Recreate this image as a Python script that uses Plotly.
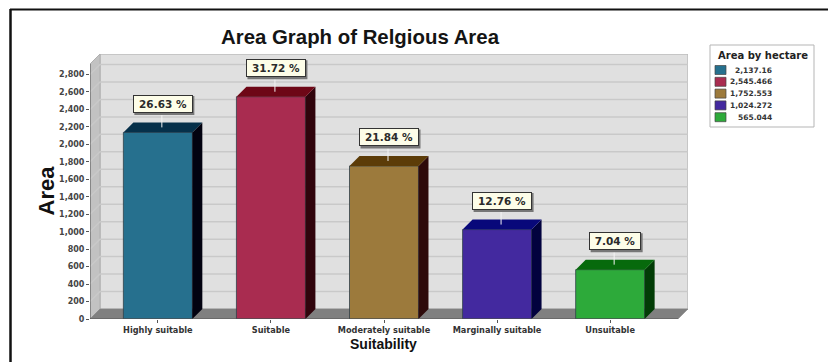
import plotly.graph_objects as go

# Suitability classes and their areas in hectares
categories = ["Highly suitable", "Suitable", "Moderately suitable", "Marginally suitable", "Unsuitable"]
areas = [2137.16, 2545.466, 1752.553, 1024.272, 565.044]
area_labels = ["2,137.16", "2,545.466", "1,752.553", "1,024.272", "565.044"]
shares = ["26.63 %", "31.72 %", "21.84 %", "12.76 %", "7.04 %"]
front_colors = ["#26708e", "#a92c50", "#9c7a3c", "#43299f", "#2daa3a"]
top_colors = ["#06304a", "#6e0716", "#5c3c08", "#08087a", "#076a0c"]
side_colors = ["#020210", "#30040c", "#2e0a0a", "#02023e", "#023c06"]
y_ticks = list(range(0, 3000, 200))

W, H = 828, 362
LEFT, RIGHT, TOP, BOTTOM = 90, 688, 54, 319
X_MIN, X_MAX = -0.6, 4.6885
Y_MIN, Y_MAX = 0, 3035
BAR_W = 0.61
DX = (X_MAX - X_MIN) * 10 / (RIGHT - LEFT)   # depth offset of the 3D box, x units
DY = (Y_MAX - Y_MIN) * 10 / (BOTTOM - TOP)   # depth offset of the 3D box, y units
FRONT_X = X_MAX - DX
WALL_TOP = Y_MAX
FRONT_TOP = Y_MAX - DY


def px(x):
    return (x - LEFT) / (RIGHT - LEFT)


def py(y):
    return (BOTTOM - y) / (BOTTOM - TOP)


fig = go.Figure()


def poly(xs, ys, fill, line=None, width=0, axes=("x", "y")):
    fig.add_trace(go.Scatter(
        x=xs, y=ys, xaxis=axes[0], yaxis=axes[1], mode="lines", fill="toself", fillcolor=fill,
        line=dict(color=line or fill, width=width), hoverinfo="skip", showlegend=False))


def stroke(xs, ys, color, width, axes=("x", "y")):
    fig.add_trace(go.Scatter(
        x=xs, y=ys, xaxis=axes[0], yaxis=axes[1], mode="lines", line=dict(color=color, width=width),
        hoverinfo="skip", showlegend=False))


# Back wall, side wall and floor of the box
poly([X_MIN + DX, X_MAX, X_MAX, X_MIN + DX, X_MIN + DX], [DY, DY, WALL_TOP, WALL_TOP, DY], "#e0e0e0", "#bdbdbd", 1.5)
poly([X_MIN, X_MIN + DX, X_MIN + DX, X_MIN, X_MIN], [0, DY, WALL_TOP, FRONT_TOP, 0], "#c2c2c2", "#b0b0b0", 1)
poly([X_MIN, FRONT_X, X_MAX, X_MIN + DX, X_MIN], [0, 0, DY, DY, 0], "#808080", "#808080", 0.5)

# Grid lines running along the side wall and the back wall
for v in y_ticks[1:]:
    stroke([X_MIN, X_MIN + DX, X_MAX], [v, v + DY, v + DY], "#c9c9c9", 1.5)

# Bars live on an overlaying axis pair so they paint above the box faces
OVER = ("x2", "y2")
fig.add_trace(go.Bar(
    x=list(range(len(categories))), y=areas, width=BAR_W, xaxis="x2", yaxis="y2",
    marker=dict(color=front_colors, line=dict(color="#30404a", width=0.8)),
    hoverinfo="skip", showlegend=False))

# Right side and top faces of each bar
for i, v in enumerate(areas):
    x0, x1 = i - BAR_W / 2, i + BAR_W / 2
    poly([x1, x1 + DX, x1 + DX, x1, x1], [0, DY, v + DY, v, 0], side_colors[i], axes=OVER)
    poly([x0, x0 + DX, x1 + DX, x1, x0], [v, v + DY, v + DY, v, v], top_colors[i], axes=OVER)

# Axis lines of the front edge
stroke([X_MIN, X_MIN], [0, FRONT_TOP], "#555555", 1, OVER)
stroke([X_MIN, FRONT_X], [0, 0], "#555555", 1, OVER)

shapes = []
annotations = []

# Value call-outs: leader line, drop shadow, then the boxed text
for i, v in enumerate(areas):
    lx = i + 4 / 113
    stroke([lx, lx], [v + DY * 0.5, v + DY * 2.4], "#f4f4f4", 1, OVER)
    half = 30 if i < 4 else 26
    shapes.append(dict(
        type="rect", xref="x", yref="y", xsizemode="pixel", ysizemode="pixel",
        xanchor=i + 5 / 113, yanchor=v,
        x0=-half + 1.5, x1=half + 1.5, y0=17.5, y1=36.5,
        fillcolor="#777777", line=dict(width=0), layer="above"))
    annotations.append(dict(
        x=i + 5 / 113, y=v, xref="x", yref="y", yshift=28.5, text=f"<b>{shares[i]}</b>",
        xanchor="center", yanchor="middle",
        showarrow=False, bgcolor="#fdfde8", bordercolor="#333333", borderwidth=1,
        width=2 * half - 2, height=16, borderpad=0, font=dict(family="DejaVu Sans", size=10.5, color="#2a2a2a")))

# Legend panel
shapes.append(dict(type="rect", xref="paper", yref="paper",
                   x0=px(710), x1=px(814), y0=py(127), y1=py(45),
                   fillcolor="white", line=dict(color="#b5b5b5", width=1), layer="above"))
annotations.append(dict(
    x=px(763), y=py(55), xref="paper", yref="paper", xanchor="center", yanchor="middle",
    text="<b>Area by hectare</b>", showarrow=False, font=dict(family="DejaVu Sans", size=10, color="#222222")))
for i, label in enumerate(area_labels):
    cy = 70 + i * 11.8
    shapes.append(dict(type="rect", xref="paper", yref="paper",
                       x0=px(715), x1=px(726), y0=py(cy + 4.5), y1=py(cy - 4.5),
                       fillcolor=front_colors[i], line=dict(color="#444444", width=0.7), layer="above"))
    annotations.append(dict(
        x=px(774), y=py(cy), xref="paper", yref="paper", xanchor="right", yanchor="middle",
        text=f"<b>{label}</b>", showarrow=False,
        font=dict(family="DejaVu Sans", size=7.5, color="#333333")))

# Axis titles
annotations.append(dict(
    x=px(383), y=py(344), xref="paper", yref="paper", xanchor="center", yanchor="middle",
    text="<b>Suitability</b>", showarrow=False, font=dict(family="Liberation Sans", size=14, color="#111111")))
annotations.append(dict(
    x=px(45.5), y=py(191), xref="paper", yref="paper", xanchor="center", yanchor="middle", textangle=-90,
    text="<b>Area</b>", showarrow=False, font=dict(family="Liberation Sans", size=22, color="#111111")))

# Outer frame, open on the right and bottom sides
shapes.append(dict(type="line", xref="paper", yref="paper",
                   x0=px(10.5), x1=px(10.5), y0=py(H), y1=py(9),
                   line=dict(color="#111111", width=2.5)))
shapes.append(dict(type="line", xref="paper", yref="paper",
                   x0=px(10), x1=px(W), y0=py(9.5), y1=py(9.5),
                   line=dict(color="#111111", width=2)))

fig.update_layout(
    width=W, height=H, paper_bgcolor="white", plot_bgcolor="white", showlegend=False,
    margin=dict(l=LEFT, r=W - RIGHT, t=TOP, b=H - BOTTOM, pad=0),
    title=dict(text="<b>Area Graph of Relgious Area</b>", x=360 / W, y=1 - 37 / H, xanchor="center", yanchor="middle",
               font=dict(family="Liberation Sans", size=20.4, color="#141414")),
    xaxis=dict(range=[X_MIN, X_MAX], tickmode="array", tickvals=list(range(len(categories))),
               ticktext=[f"<b>{c}</b>" for c in categories], tickfont=dict(family="DejaVu Sans", size=8.2, color="#333333"),
               showgrid=False, zeroline=False, showline=False, ticks="outside", ticklen=3, tickcolor="#555555"),
    yaxis=dict(range=[Y_MIN, Y_MAX], tickmode="array", tickvals=y_ticks,
               ticktext=[f"<b>{v:,}</b>" for v in y_ticks], tickfont=dict(family="DejaVu Sans", size=8, color="#444444"),
               showgrid=False, zeroline=False, showline=False, ticks="outside", ticklen=3, tickcolor="#555555"),
    xaxis2=dict(range=[X_MIN, X_MAX], overlaying="x", visible=False),
    yaxis2=dict(range=[Y_MIN, Y_MAX], overlaying="y", visible=False),
    shapes=shapes, annotations=annotations,
)

fig.write_html("out.html", config=dict(displayModeBar=False))
